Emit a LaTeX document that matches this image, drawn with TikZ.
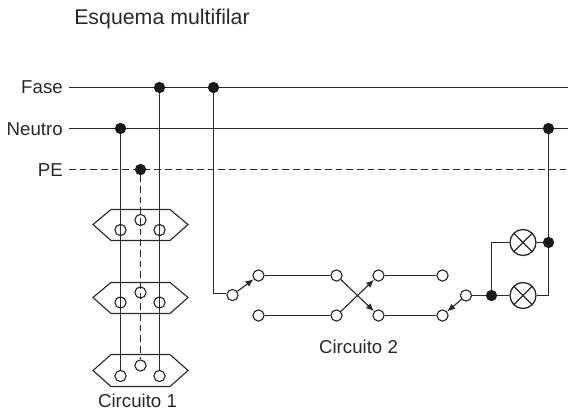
\documentclass[tikz,border=0pt]{standalone}
\usepackage{fontspec}
\setmainfont{Liberation Sans}
\usetikzlibrary{arrows.meta}
\definecolor{ink}{gray}{0.16}
\tikzset{
  x=0.75pt,y=-0.75pt,
  wire/.style={draw=ink,line width=1.05pt},
  pewire/.style={wire,dash pattern=on 5pt off 3pt},
  dot/.style={circle,fill=black!90,draw=none,minimum size=8.5pt,inner sep=0pt},
  term/.style={circle,draw=ink,line width=0.85pt,minimum size=8.4pt,inner sep=0pt},
  sw/.style={term,fill=white},
  lamp/.style={circle,draw=ink,line width=1pt,fill=white,minimum size=19.5pt,inner sep=0pt,
    path picture={\draw[ink,line width=0.9pt]
      (path picture bounding box.north west)--(path picture bounding box.south east)
      (path picture bounding box.north east)--(path picture bounding box.south west);}},
  lbl/.style={text=ink,font=\fontsize{14}{16}\selectfont,inner sep=0pt},
  plug/.style={draw=ink,line width=0.85pt},
  swarrow/.style={wire,line width=0.85pt,-{Latex[length=6pt,width=5pt]}}
}
\begin{document}
\begin{tikzpicture}
\useasboundingbox (0,0) rectangle (568,415);
\fill[white] (0,0) rectangle (568,415);
% labels
\node[lbl,anchor=base west,font=\fontsize{16}{18}\selectfont] (title) at (74,24) {Esquema multifilar};
\node[lbl,anchor=base east] (fase) at (63,93.5) {Fase};
\node[lbl,anchor=base east] (neutro) at (63,135.5) {Neutro};
\node[lbl,anchor=base east] (pe) at (63,176.5) {PE};
\node[lbl,anchor=base] (c1) at (137.5,407) {Circuito 1};
\node[lbl,anchor=base] (c2) at (358.5,353.5) {Circuito 2};
% bus ends
\coordinate (fs) at (69,87.5);
\coordinate (fe) at (568,87.5);
\coordinate (ns) at (69,128.5);
\coordinate (ne) at (568,128.5);
\coordinate (ps) at (69,169.5);
\coordinate (pe2) at (568,169.5);
\draw[wire] (fs)--(fe);
\draw[wire] (ns)--(ne);
\draw[pewire] (ps)--(pe2);
% socket outlines
\draw[plug] (93,224.5)--(111,209.5)--(170,209.5)--(188,224.5)--(170,240.5)--(111,240.5)--cycle;
\draw[plug] (93,297.5)--(111,282.5)--(170,282.5)--(188,297.5)--(170,313.5)--(111,313.5)--cycle;
\draw[plug] (93,370.5)--(111,354.5)--(170,354.5)--(188,370.5)--(170,386.5)--(111,386.5)--cycle;
% socket terminals
\foreach \n/\x/\y in {a1/120.5/230,b1/140.5/220,c1t/159.5/230,a2/120.5/302.5,b2/140.5/292.5,c2t/159.5/302.5,a3/120.5/376,b3/140.5/365.5,c3t/159.5/376}
  \node[term] (\n) at (\x,\y) {};
% junctions
\node[dot] (dn1) at (120.5,128.5) {};
\node[dot] (df1) at (159.5,87.5) {};
\node[dot] (df2) at (213.5,87.5) {};
\node[dot] (dp1) at (140.5,169.5) {};
\node[dot] (dn2) at (548.5,128.5) {};
% socket wires
\draw[wire] (dn1)--(a3.north);
\draw[wire] (df1)--(c3t.north);
\draw[pewire] (dp1)--(b3.north);
% switches
\foreach \n/\x/\y in {s1/232.5/295,s1a/258.5/275.5,s1b/258.5/315.5,s2a/336.5/275.5,s2b/336.5/315.5,s3a/378.5/275.5,s3b/378.5/315.5,s4a/442.5/275.5,s4b/442.5/315.5,s5/466/295.5}
  \node[sw] (\n) at (\x,\y) {};
\node[dot] (dj) at (491.5,295.5) {};
\node[lamp] (l1) at (523,242.5) {};
\node[lamp] (l2) at (523,295.5) {};
\node[dot] (dk) at (548.5,242.5) {};
% circuit 2 wiring
\draw[wire] (df2)--(213.5,293.5)--(s1.west |- 0,293.5);
\draw[wire] (s1a)--(s2a);
\draw[wire] (s1b)--(s2b);
\draw[wire] (s3a)--(s4a);
\draw[wire] (s3b)--(s4b);
\draw[swarrow] (s1)--(s1a);
\draw[swarrow] (s2b)--(s3a);
\draw[swarrow] (s2a)--(s3b);
\draw[swarrow] (s5)--(s4b);
\draw[wire] (s5)--(dj);
\draw[wire] (dj)--(l2);
\draw[wire] (dj)--(dj |- l1)--(l1);
\draw[wire] (l1)--(dk);
\draw[wire] (dn2)--(dk);
\draw[wire] (dk)--(dk |- l2)--(l2);
\end{tikzpicture}
\end{document}
